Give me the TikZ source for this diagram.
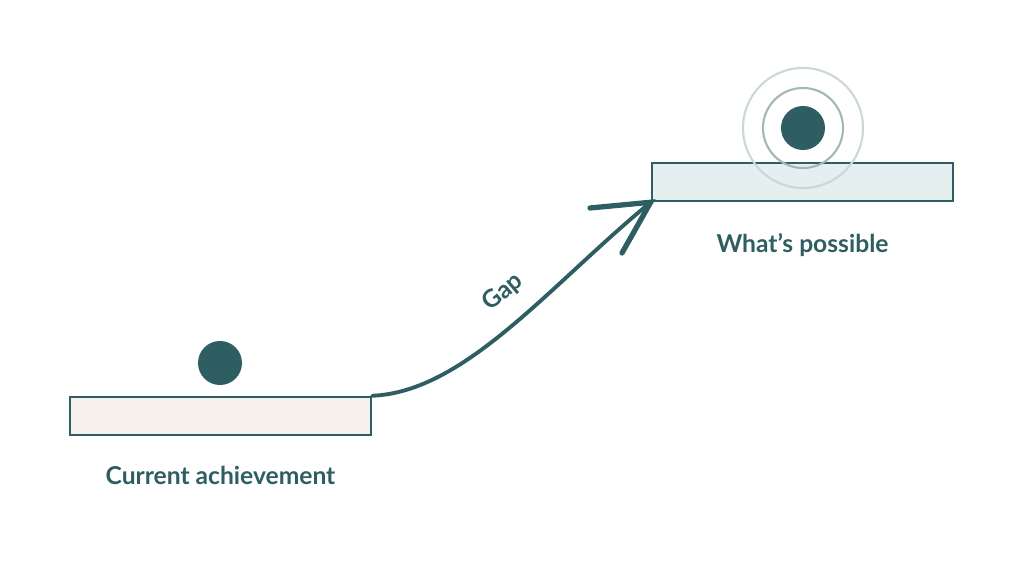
\documentclass[tikz,border=0pt]{standalone}
\usepackage{fontspec}
\setmainfont{Lato}
\usetikzlibrary{positioning}
\definecolor{teal}{HTML}{2E5E62}
\definecolor{sand}{HTML}{F6F1EC}
\definecolor{mist}{HTML}{E6EFEF}
\begin{document}
\begin{tikzpicture}[
    x=0.01cm, y=-0.01cm,
    platform/.style={rectangle, draw=teal, line width=0.7pt, minimum width=3.01cm, minimum height=0.38cm, inner sep=0pt},
    ball/.style={circle, fill=teal, minimum size=0.44cm, inner sep=0pt},
    label/.style={font=\bfseries\fontsize{7pt}{8pt}\selectfont, text=teal},
    arrow/.style={draw=teal, line width=1.1pt, line cap=round}
]
\useasboundingbox (0,0) rectangle (1024,576);

\node[platform, fill=sand] (now) at (220.5,416) {};
\node[platform, fill=mist] (goal) at (802.5,182) {};
\node[ball] (nowball) at (220,363) {};
\node[ball] (goalball) at (803,128) {};
\draw[teal!45, line width=0.6pt] (goalball) circle[radius=0.40cm];
\draw[teal!25, line width=0.6pt] (goalball) circle[radius=0.60cm];

\node[label, below=0.18cm of now] (nowtext) {Current achievement};
\node[label, below=0.19cm of goal] (goaltext) {What’s possible};

\coordinate (tipA) at (590,208);
\coordinate (tipB) at (622,253);
\draw[arrow] (now.north east) .. controls (465,392) and (550,285) .. (goal.south west);
\draw[arrow, line width=1.5pt] (tipA) -- (goal.south west) -- (tipB);
\node[label, rotate=40, inner sep=0pt] (gap) at (503,292) {Gap};
\end{tikzpicture}
\end{document}
